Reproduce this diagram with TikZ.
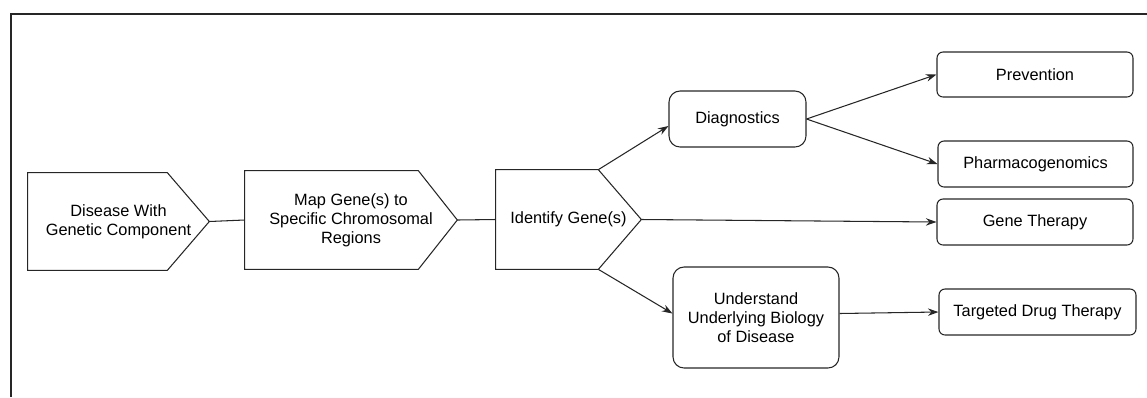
\documentclass[tikz,border=0pt]{standalone}
\usepackage{fontspec}
\setmainfont{Liberation Sans}
\usepackage{tikz}
\usetikzlibrary{arrows.meta}

\newcommand\pentline[2]{\draw[ln] (#1.north west) -- ([xshift=-#2]#1.north east) -- (#1.east) -- ([xshift=-#2]#1.south east) -- (#1.south west) -- cycle;}

\begin{document}
\begin{tikzpicture}
[x=0.02cm,y=-0.02cm
,ln/.style={draw=black!85,line width=0.6pt}
,pent/.style={rectangle,inner sep=0pt,align=center}
,rbox/.style={rectangle,ln,rounded corners=0.12cm,align=center,inner sep=0pt}
,big/.style={rbox,rounded corners=0.22cm}
,ar/.style={ln,arrows={-Stealth[length=6pt,width=4.2pt]}}
,font=\fontsize{9.3}{10.8}\selectfont]
\useasboundingbox (0,0) rectangle (1147,397);
\draw[black!85,line width=1.1pt] (11,397) -- (11,14) -- (1147,14);
\node[pent,minimum width=3.62cm,minimum height=1.94cm] (dis) at (118.5,221.5) {Disease With\\Genetic Component};
\node[pent,minimum width=4.24cm,minimum height=1.96cm] (map) at (351,220) {Map Gene(s) to\\Specific Chromosomal\\Regions};
\node[pent,minimum width=2.9cm,minimum height=1.98cm] (ident) at (568.5,219.5) {Identify Gene(s)};
\pentline{dis}{0.84cm}
\pentline{map}{0.78cm}
\pentline{ident}{0.86cm}
\node[big,minimum width=2.74cm,minimum height=1.12cm] (diag) at (737.5,119) {Diagnostics};
\node[big,minimum width=3.32cm,minimum height=2.02cm] (under) at (756,317.5) {Understand\\Underlying Biology\\of Disease};
\node[rbox,minimum width=3.92cm,minimum height=0.9cm] (prev) at (1035,74.5) {Prevention};
\node[rbox,minimum width=3.9cm,minimum height=0.92cm] (pharm) at (1035.5,164) {Pharmacogenomics};
\node[rbox,minimum width=3.92cm,minimum height=0.92cm] (gene) at (1035,222) {Gene Therapy};
\node[rbox,minimum width=3.94cm,minimum height=0.92cm] (targ) at (1037.5,312) {Targeted Drug Therapy};
\draw[ln] (dis.east) -- (map.west);
\draw[ln] (map.east) -- (ident.west);
\draw[ar] ([xshift=-0.86cm]ident.north east) -- ([yshift=-0.14cm]diag.west);
\draw[ar] (ident.east) -- (gene.west);
\draw[ar] ([xshift=-0.86cm]ident.south east) -- ([yshift=0.08cm]under.west);
\draw[ar] (diag.east) -- (prev.west);
\draw[ar] (diag.east) -- (pharm.west);
\draw[ar] ([yshift=0.08cm]under.east) -- (targ.west);
\end{tikzpicture}
\end{document}
